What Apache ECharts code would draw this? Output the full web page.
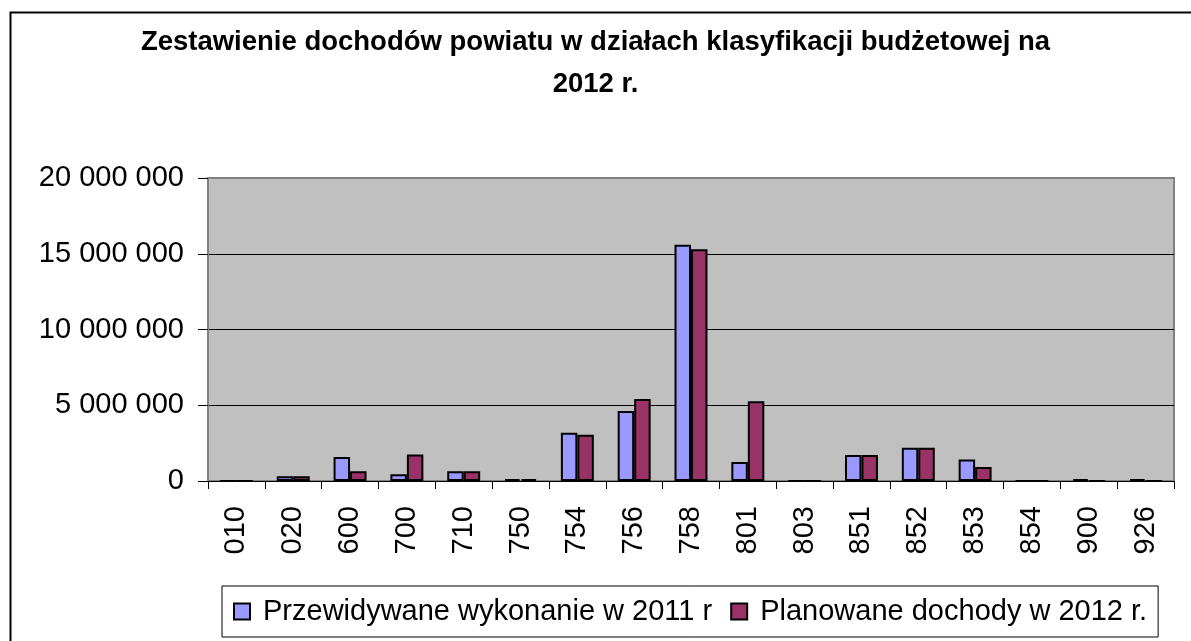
<!DOCTYPE html>
<html>
<head>
<meta charset="utf-8">
<script src="https://cdn.jsdelivr.net/npm/echarts@6/dist/echarts.min.js"></script>
<style>
html,body{margin:0;padding:0;background:#fff;}
#chart{width:1191px;height:641px;}
</style>
</head>
<body>
<div id="chart"></div>
<script>
const categories = ['010','020','600','700','710','750','754','756','758','801','803','851','852','853','854','900','926'];
const przewidywane2011 = [0, 310000, 1580000, 450000, 650000, 120000, 3180000, 4620000, 15600000, 1250000, 0, 1710000, 2200000, 1420000, 0, 120000, 120000];
const planowane2012 = [0, 310000, 650000, 1750000, 650000, 120000, 3050000, 5420000, 15300000, 5270000, 0, 1710000, 2200000, 930000, 0, 0, 0];
const seriesNames = ['Przewidywane wykonanie w 2011 r', 'Planowane dochody w 2012 r.'];
const titleText = 'Zestawienie dochodów powiatu w działach klasyfikacji budżetowej na\n2012 r.';

const FONT = '"Liberation Sans", Arial, sans-serif';
const chart = echarts.init(document.getElementById('chart'), null, {renderer: 'canvas'});

function fmt(v) {
  return String(Math.round(v)).replace(/\B(?=(\d{3})+(?!\d))/g, ' ');
}

chart.setOption({
  animation: false,
  backgroundColor: '#ffffff',
  graphic: [{
    type: 'rect',
    left: 8, top: 10,
    shape: {width: 1220, height: 700},
    style: {fill: 'none', stroke: '#000', lineWidth: 2},
    silent: true,
    z: -1
  }],
  title: {
    text: titleText,
    left: 'center',
    top: 21,
    padding: 0,
    textStyle: {
      fontFamily: FONT,
      fontWeight: 'bold',
      fontSize: 27.5,
      lineHeight: 42,
      color: '#000'
    }
  },
  legend: {
    data: seriesNames,
    left: 222,
    top: 586,
    padding: [11, 11, 11, 11],
    borderColor: '#000',
    borderWidth: 1,
    icon: 'rect',
    itemWidth: 16,
    itemHeight: 16,
    itemGap: 18,
    textStyle: {fontFamily: FONT, fontSize: 29, color: '#000', padding: [0, 0, 0, 8]}
  },
  grid: {
    left: 208, top: 178, right: 17, bottom: 160,
    show: true,
    backgroundColor: '#C0C0C0',
    borderColor: '#808080',
    borderWidth: 2,
    containLabel: false
  },
  xAxis: {
    type: 'category',
    data: categories,
    boundaryGap: true,
    axisLine: {show: true, lineStyle: {color: '#000', width: 1}},
    axisTick: {show: true, length: 8, lineStyle: {color: '#000'}},
    axisLabel: {
      rotate: 90,
      margin: 25,
      fontFamily: FONT,
      fontSize: 29,
      color: '#000',
      interval: 0
    },
    splitLine: {show: false}
  },
  yAxis: {
    type: 'value',
    min: 0,
    max: 20000000,
    interval: 5000000,
    axisLine: {show: true, lineStyle: {color: '#808080', width: 2}},
    axisTick: {show: true, length: 10, lineStyle: {color: '#000'}},
    axisLabel: {
      margin: 24,
      fontFamily: FONT,
      fontSize: 29,
      color: '#000',
      formatter: fmt
    },
    splitLine: {show: true, showMinLine: false, showMaxLine: false, lineStyle: {color: '#000', width: 1}}
  },
  series: [
    {
      name: seriesNames[0],
      type: 'bar',
      data: przewidywane2011,
      barGap: '0%',
      barCategoryGap: '42%',
      itemStyle: {color: '#9999FF', borderColor: '#000', borderWidth: 2}
    },
    {
      name: seriesNames[1],
      type: 'bar',
      data: planowane2012,
      barGap: '0%',
      barCategoryGap: '42%',
      itemStyle: {color: '#993366', borderColor: '#000', borderWidth: 2}
    }
  ]
});
</script>
</body>
</html>
